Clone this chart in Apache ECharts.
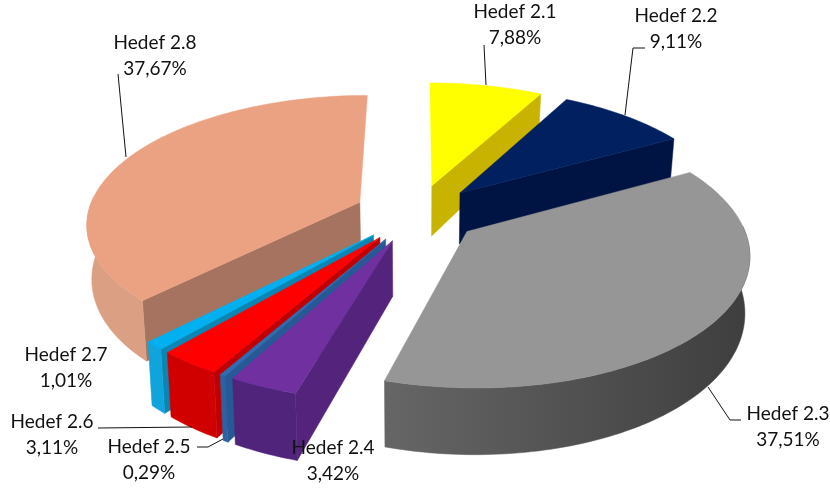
<!DOCTYPE html>
<html>
<head>
<meta charset="utf-8">
<style>html,body{margin:0;padding:0;background:#fff}#chart{width:830px;height:488px}</style>
<script src="https://cdn.jsdelivr.net/npm/echarts@6/dist/echarts.min.js"></script>
</head>
<body>
<div id="chart"></div>
<script>
// veri
var categories = ["Hedef 2.1", "Hedef 2.2", "Hedef 2.3", "Hedef 2.4", "Hedef 2.5", "Hedef 2.6", "Hedef 2.7", "Hedef 2.8"];
var percents = [7.88, 9.11, 37.51, 3.42, 0.29, 3.11, 1.01, 37.67];

// renkler: üst yüz, kesit, dış kenar
var topColors = ["#ffff00", "#012060", "#969696", "#7030a0", "#2e6db4", "#ff0000", "#00b0f0", "#eba283"];
var cutColors = ["#c8b400", "#001443", "#4a4a4a", "#54247c", "#255a96", "#c00000", "#0a86b4", "#a5735f"];
var rimColors = [
  ["#c8b400", "#c8b400"], ["#001443", "#001443"], ["#666666", "#3e3e3e"], ["#50247a", "#50247a"],
  ["#2a62a4", "#2a62a4"], ["#d00000", "#d00000"], ["#0fa4dc", "#0fa4dc"], ["#dba084", "#dba084"]
];

// etiket yerleri ve kılavuz çizgileri
var labelPos = [[515, 25], [676, 29], [788, 427], [333, 461], [149, 460], [52, 435], [66, 368], [155, 56]];
var leaders = [
  [[486, 85], [484, 45]],
  [[625, 115], [633, 48], [645, 48]],
  [[708, 387], [730, 420], [741, 420]],
  [],
  [[223, 439], [208, 447], [197, 447]],
  [[192, 427], [98, 428]],
  [],
  [[126, 157], [118, 74]]
];

// perspektif ayarları
var cx = 417, cy = 213, scaleX = 272, scaleY = 126.2, persp = 0.153, explode = 0.23;

function project(x, y) {
  var w = 1 - persp * y;
  return [cx + scaleX * x / w, cy + scaleY * y / w];
}
function lower(p, y) {
  return [cx + (p[0] - cx) * 0.985, p[1] + 53 + 12 * y];
}

var total = percents.reduce(function (a, b) { return a + b; }, 0);
var startAngles = [];
percents.reduce(function (sum, v, i) {
  startAngles[i] = sum / total * Math.PI * 2;
  return sum + v;
}, 0);

function renderSlice(params, api) {
  var i = api.value(0);
  var a0 = startAngles[i];
  var a1 = a0 + percents[i] / total * Math.PI * 2;
  var mid = (a0 + a1) / 2;
  var ox = Math.sin(mid) * explode;
  var oy = -Math.cos(mid) * explode;
  var depth = Math.round((oy + 2) * 100) * 10;

  var apex = project(ox, oy);
  var apexLow = lower(apex, oy);
  var rimTop = [], rimLow = [], faceTop = [], faceLow = [];
  var steps = Math.max(2, Math.ceil((a1 - a0) / 0.02));
  for (var k = 0; k <= steps; k++) {
    var a = a0 + (a1 - a0) * k / steps;
    var x = ox + Math.sin(a), y = oy - Math.cos(a);
    var p = project(x, y);
    var q = lower(p, y);
    rimTop.push(p);
    rimLow.push(q);
    // arka kenar üst yüzün altında kalır
    if (Math.cos(a) < 0.05) {
      faceTop.push(p);
      faceLow.push(q);
    }
  }
  var n = rimTop.length - 1;
  var poly = function (pts, fill, layer) {
    return { type: "polygon", silent: true, z2: depth + layer, shape: { points: pts }, style: { fill: fill, stroke: fill, lineWidth: 0.5 } };
  };
  var rimFill = new echarts.graphic.LinearGradient(0, 0, 1, 0, [
    { offset: 0, color: rimColors[i][0] },
    { offset: 1, color: rimColors[i][1] }
  ]);
  var kids = [];
  // kesit yüzü: aşağı yön dilimin dışına düşüyorsa görünür
  var midPt = rimTop[Math.round(n / 2)];
  [0, n].forEach(function (e) {
    var ex = rimTop[e][0] - apex[0], ey = rimTop[e][1] - apex[1];
    var len = Math.sqrt(ex * ex + ey * ey);
    var side = ex * (midPt[1] - apex[1]) - ey * (midPt[0] - apex[0]);
    var down = ex / len;
    if (Math.abs(down) > 0.15 && down * side < 0) {
      kids.push(poly([apex, rimTop[e], rimLow[e], apexLow], cutColors[i], 1));
    }
  });
  if (faceTop.length > 1) {
    kids.push(poly(faceTop.concat(faceLow.slice().reverse()), rimFill, 2));
  }
  kids.push(poly([apex].concat(rimTop), topColors[i], 3));
  return { type: "group", children: kids };
}

function renderLabel(params, api) {
  var i = api.value(0);
  var kids = [{
    type: "text",
    silent: true,
    x: labelPos[i][0],
    y: labelPos[i][1],
    z2: 5000,
    style: {
      text: categories[i] + "\n" + percents[i].toFixed(2).replace(".", ",") + "%",
      fill: "#111",
      font: '19px Lato, "Noto Sans", sans-serif',
      align: "center",
      verticalAlign: "middle",
      lineHeight: 26.5
    }
  }];
  if (leaders[i].length) {
    kids.push({
      type: "polyline",
      silent: true,
      z2: 5000,
      shape: { points: leaders[i] },
      style: { fill: null, stroke: "#111", lineWidth: 1 }
    });
  }
  return { type: "group", children: kids };
}

var myChart = echarts.init(document.getElementById("chart"), null, { renderer: "canvas" });
var rows = categories.map(function (c, i) { return [i]; });
myChart.setOption({
  animation: false,
  backgroundColor: "#fff",
  series: [
    { type: "custom", coordinateSystem: "none", renderItem: renderSlice, data: rows, z: 2 },
    { type: "custom", coordinateSystem: "none", renderItem: renderLabel, data: rows, z: 3 }
  ]
});
</script>
</body>
</html>
